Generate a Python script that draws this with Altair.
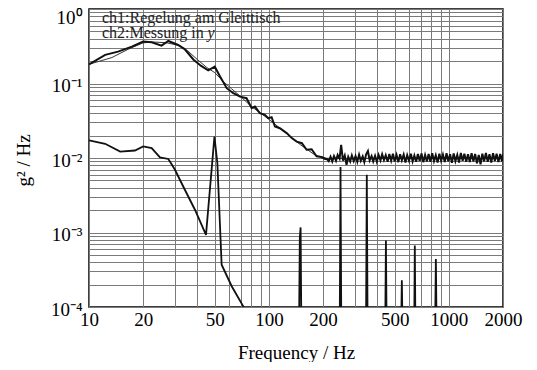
import altair as alt
import pandas as pd

# ---- data ----
ch1_freq = [10, 13.4, 16.5, 20, 23, 27, 31, 35, 40, 45, 50, 56, 62, 70, 80, 90, 100, 125, 150, 180, 210, 2000]
ch1_val = [0.181, 0.223, 0.288, 0.352, 0.36, 0.352, 0.328, 0.28, 0.21, 0.165, 0.14, 0.105, 0.085, 0.066, 0.049, 0.04, 0.033, 0.0215, 0.015, 0.011, 0.0099, 0.0099]

ch2_freq = [10, 12.3, 14.5, 17.3, 20, 22.3, 25.3, 27.6, 31.3, 34, 38, 42, 46, 50, 53.5, 58.3, 63.4, 69.1, 75.1, 80.2,
            83.6, 89, 95, 99.2, 103.5, 108, 115, 125.5, 134, 142.7, 152.5, 162, 172.7, 184, 196, 205,
            210, 215, 220, 225, 230, 236, 241, 247, 252, 258, 264, 270, 276, 283, 289, 296, 303, 310, 317, 324,
            332, 339, 347, 355, 363, 372, 380, 389, 398, 407, 417, 426, 436, 446, 457, 467, 478, 489, 500, 512,
            524, 536, 548, 561, 574, 587, 601, 615, 629, 643, 658, 673, 689, 705, 721, 738, 755, 772, 790, 808,
            827, 846, 866, 886, 906, 927, 949, 971, 993, 1016, 1040, 1064, 1088, 1114, 1139, 1166, 1193, 1220,
            1249, 1278, 1307, 1338, 1369, 1400, 1433, 1466, 1500, 1535, 1570, 1607, 1644, 1682, 1721, 1761, 1802,
            1843, 1886, 1930, 1975, 2000]
ch2_val = [0.181, 0.242, 0.268, 0.312, 0.365, 0.357, 0.322, 0.372, 0.329, 0.29, 0.21, 0.172, 0.150, 0.168, 0.124,
           0.0865, 0.074, 0.0667, 0.0635, 0.0467, 0.049, 0.040, 0.038, 0.0343, 0.0353, 0.0265, 0.0251, 0.0216,
           0.0185, 0.0166, 0.0158, 0.0129, 0.0131, 0.0105, 0.0103, 0.0097,
           0.0097, 0.0091, 0.0104, 0.0090, 0.0106, 0.0092, 0.0110, 0.0098, 0.0150, 0.0092, 0.0108, 0.0081, 0.0104,
           0.0090, 0.0108, 0.0091, 0.0106, 0.0089, 0.0111, 0.0092, 0.0105, 0.0088, 0.0112, 0.0124, 0.0093, 0.0106,
           0.0090, 0.0107, 0.0089, 0.0110, 0.0093, 0.0112, 0.0094, 0.0109, 0.0089, 0.0113, 0.0092, 0.0114, 0.0090,
           0.0110, 0.0088, 0.0112, 0.0093, 0.0111, 0.0087, 0.0109, 0.0092, 0.0114, 0.0090, 0.0108, 0.0089, 0.0113,
           0.0091, 0.0115, 0.0088, 0.0110, 0.0090, 0.0113, 0.0089, 0.0116, 0.0091, 0.0109, 0.0087, 0.0114, 0.0092,
           0.0111, 0.0088, 0.0116, 0.0090, 0.0112, 0.0086, 0.0115, 0.0091, 0.0110, 0.0087, 0.0117, 0.0092, 0.0114,
           0.0089, 0.0112, 0.0088, 0.0116, 0.0090, 0.0113, 0.0085, 0.0110, 0.0082, 0.0114, 0.0090, 0.0117, 0.0089,
           0.0112, 0.0087, 0.0116, 0.0091, 0.0114, 0.0088, 0.0113, 0.0090, 0.0112]

low_freq = [10, 12.3, 14.9, 18, 20, 22.3, 24.8, 27.6, 30, 34.1, 38.8, 44.7, 49.8, 51.7, 54.6, 62.1, 72, 80,
            147, 148.5, 150, 151.5,
            247.5, 250, 252.5,
            346.5, 350, 353.5,
            443, 447, 451,
            543, 548, 553,
            642, 647, 652,
            839, 847, 855, 2000]
low_val = [0.0172, 0.0155, 0.0122, 0.0126, 0.0143, 0.0136, 0.0102, 0.0097, 0.0070, 0.00375, 0.00202, 0.00093,
           0.0194, 0.0085, 0.00037, 0.00019, 0.000102, 0.00005,
           0.00005, 0.00085, 0.00117, 0.00005,
           0.00005, 0.00755, 0.00005,
           0.00005, 0.00595, 0.00005,
           0.00005, 0.00078, 0.00005,
           0.00005, 0.000228, 0.00005,
           0.00005, 0.00067, 0.00005,
           0.00005, 0.00044, 0.00005, 0.00005]

legend_lines = ["ch1:Regelung am Gleittisch", "ch2:Messung in "]
legend_f = [11.8, 11.8]
legend_v = [0.757, 0.47]
italic_text = ["y"]
italic_f = [45.5]
italic_v = [0.47]

x_grid = [10, 20, 30, 40, 50, 60, 70, 80, 90, 100, 200, 300, 400, 500, 600, 700, 800, 900, 1000, 2000]
x_labels = [10, 20, 50, 100, 200, 500, 1000, 2000]
y_grid = [round(m * 10 ** e, 8) for e in [-4, -3, -2, -1] for m in range(1, 10)] + [1]

n = min(len(ch2_freq), len(ch2_val))
df1 = pd.DataFrame({"f": ch1_freq, "v": ch1_val})
df2 = pd.DataFrame({"f": ch2_freq[:n], "v": ch2_val[:n]})
df3 = pd.DataFrame({"f": low_freq, "v": low_val})
dleg = pd.DataFrame({"f": legend_f, "v": legend_v, "t": legend_lines})
dit = pd.DataFrame({"f": italic_f, "v": italic_v, "t": italic_text})

xscale = alt.Scale(type="log", domain=[10, 2000], nice=False)
yscale = alt.Scale(type="log", domain=[0.0001, 1], nice=False)

label_list = "[" + ",".join(str(v) for v in x_labels) + "]"
xaxis = alt.Axis(values=x_grid, title="Frequency / Hz",
                 labelExpr=f"indexof({label_list}, datum.value) >= 0 ? toString(datum.value) : ''",
                 labelPadding=3, labelFlush=False, labelOverlap=False, labelBound=False,
                 titleX=207, titleY=45, titleBaseline="middle")
yaxis = alt.Axis(values=y_grid, title="g² / Hz",
                 labelExpr="datum.value == 1 ? '10⁰' : datum.value == 0.1 ? '10⁻¹' : datum.value == 0.01 ? '10⁻²' : datum.value == 0.001 ? '10⁻³' : datum.value == 0.0001 ? '10⁻⁴' : ''",
                 labelPadding=7, labelBaseline="middle", labelFlush=False, labelOverlap=False,
                 labelOffset={"condition": {"test": "datum.value == 1", "value": 8}, "value": 2},
                 titleX=-66, titleY=151, titleBaseline="middle", titleAlign="center", titleAngle=270)

X = alt.X("f:Q", scale=xscale, axis=xaxis)
Y = alt.Y("v:Q", scale=yscale, axis=yaxis)

l1 = alt.Chart(df1).mark_line(color="#333333", strokeWidth=1, clip=True).encode(x=X, y=Y)
l2 = alt.Chart(df2).mark_line(color="#111111", strokeWidth=2, clip=True).encode(x=X, y=Y)
l3 = alt.Chart(df3).mark_line(color="#111111", strokeWidth=1.8, clip=True).encode(x=X, y=Y)

t1 = alt.Chart(dleg).mark_text(align="left", baseline="middle", font="Liberation Serif", fontSize=16,
                               color="#222222").encode(x=alt.X("f:Q", scale=xscale), y=alt.Y("v:Q", scale=yscale), text="t:N")
t2 = alt.Chart(dit).mark_text(align="left", baseline="middle", font="Liberation Serif", fontSize=16,
                              fontStyle="italic", color="#222222").encode(x=alt.X("f:Q", scale=xscale), y=alt.Y("v:Q", scale=yscale), text="t:N")

chart = alt.layer(l1, l2, l3, t1, t2).properties(
    width=414, height=298,
    autosize=alt.AutoSizeParams(type="none"),
    padding={"left": 81, "top": 1, "right": 26, "bottom": 55},
    background="white",
).configure_view(stroke="black", strokeWidth=1.5).configure_axis(
    grid=True, gridColor="#7a7a7a", gridWidth=1, gridOpacity=1,
    domain=False, ticks=False,
    labelFont="Liberation Serif", labelFontSize=19, labelColor="black",
    titleFont="Liberation Serif", titleFontSize=19, titleFontWeight="normal", titleColor="black",
)

chart.save("out.html", embed_options={"renderer": "svg", "actions": False})
